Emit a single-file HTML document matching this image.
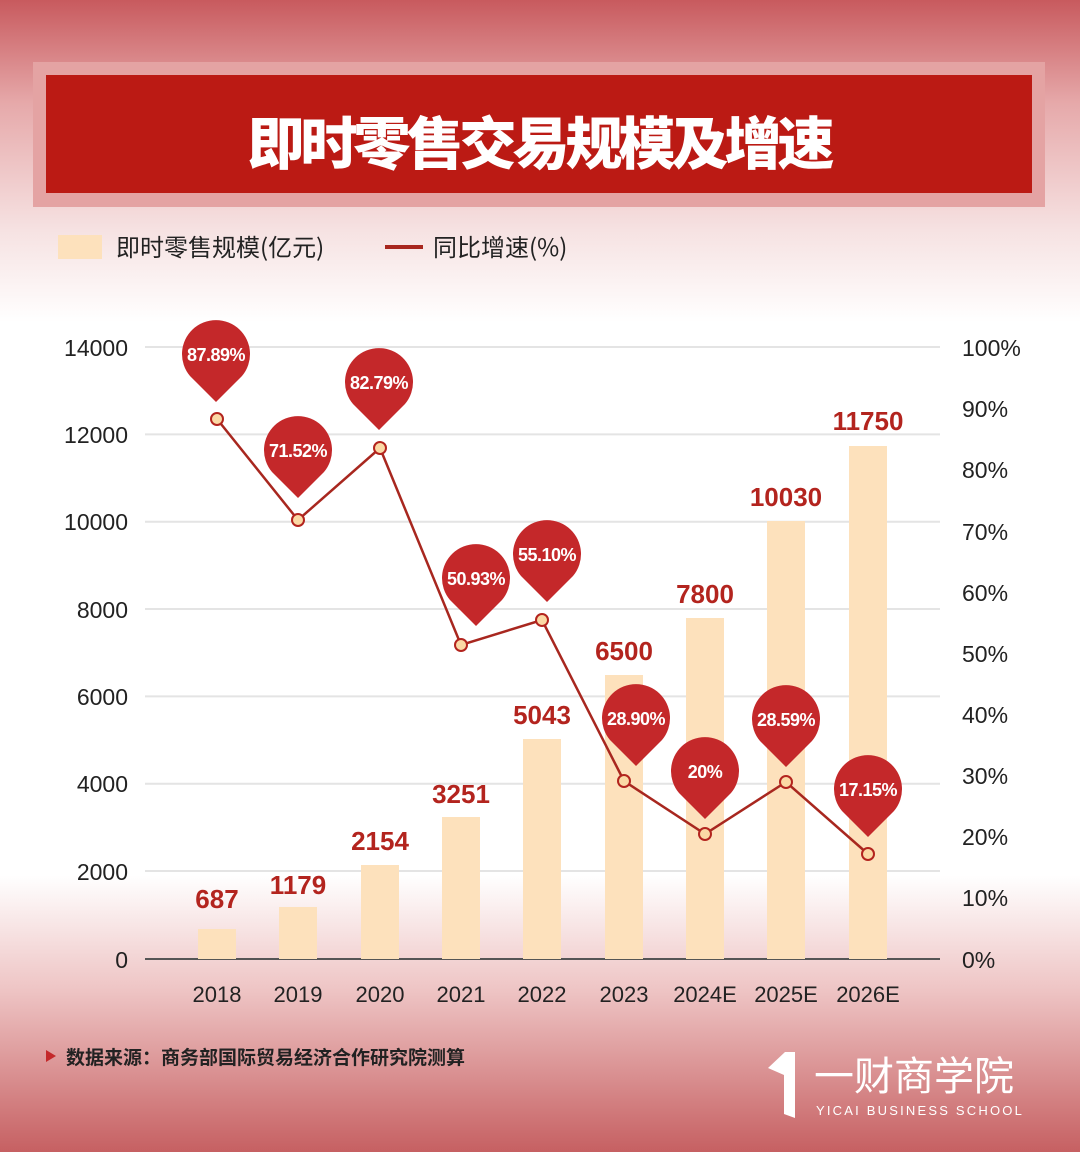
<!DOCTYPE html>
<html><head><meta charset="utf-8"><style>
html,body{margin:0;padding:0;}
body{width:1080px;height:1152px;overflow:hidden;font-family:"Liberation Sans","Noto Sans CJK SC",sans-serif;}
</style></head><body>
<svg width="1080" height="1152" viewBox="0 0 1080 1152" xmlns="http://www.w3.org/2000/svg" font-family="Liberation Sans, Noto Sans CJK SC, sans-serif">
<defs>
<linearGradient id="bg" x1="0" y1="0" x2="0" y2="1">
<stop offset="0" stop-color="#c85a5e"/>
<stop offset="0.09" stop-color="#e6a9aa"/>
<stop offset="0.2" stop-color="#f6e2e2"/>
<stop offset="0.28" stop-color="#ffffff"/>
<stop offset="0.76" stop-color="#ffffff"/>
<stop offset="0.86" stop-color="#eec4c4"/>
<stop offset="1" stop-color="#c66062"/>
</linearGradient>
</defs>
<rect width="1080" height="1152" fill="url(#bg)"/>
<rect x="33" y="62" width="1012" height="145" fill="#e4a3a3"/>
<rect x="46" y="75" width="986" height="118" fill="#bb1a14"/>
<text x="539" y="164" text-anchor="middle" font-size="57" font-weight="900" fill="#fff" font-family="Noto Sans CJK SC, sans-serif" letter-spacing="-4">即时零售交易规模及增速</text>
<rect x="58" y="235" width="44" height="24" fill="#fde1bc"/>
<text x="116" y="256" font-size="24" fill="#222" font-family="Noto Sans CJK SC, sans-serif">即时零售规模(亿元)</text>
<rect x="385" y="245" width="38" height="4" fill="#a8271f"/>
<text x="433" y="256" font-size="24" fill="#222" font-family="Noto Sans CJK SC, sans-serif">同比增速(%)</text>
<g stroke="#e4e4e4" stroke-width="2">
<line x1="145" y1="347" x2="940" y2="347"/><line x1="145" y1="434.4" x2="940" y2="434.4"/>
<line x1="145" y1="521.7" x2="940" y2="521.7"/><line x1="145" y1="609" x2="940" y2="609"/>
<line x1="145" y1="696.4" x2="940" y2="696.4"/><line x1="145" y1="783.7" x2="940" y2="783.7"/>
<line x1="145" y1="871" x2="940" y2="871"/>
</g>
<line x1="145" y1="959" x2="940" y2="959" stroke="#555" stroke-width="2"/>
<g font-size="23" fill="#222" text-anchor="end">
<text x="128" y="356">14000</text><text x="128" y="443">12000</text><text x="128" y="530">10000</text>
<text x="128" y="618">8000</text><text x="128" y="705">6000</text><text x="128" y="792">4000</text>
<text x="128" y="880">2000</text><text x="128" y="968">0</text>
</g>
<g font-size="23" fill="#222">
<text x="962" y="356">100%</text><text x="962" y="417">90%</text><text x="962" y="478">80%</text>
<text x="962" y="540">70%</text><text x="962" y="601">60%</text><text x="962" y="662">50%</text>
<text x="962" y="723">40%</text><text x="962" y="784">30%</text><text x="962" y="845">20%</text>
<text x="962" y="906">10%</text><text x="962" y="968">0%</text>
</g>
<g fill="#fde1bc">
<rect x="198" y="929" width="38" height="30"/><rect x="279" y="907" width="38" height="52"/>
<rect x="361" y="865" width="38" height="94"/><rect x="442" y="817" width="38" height="142"/>
<rect x="523" y="739" width="38" height="220"/><rect x="605" y="675" width="38" height="284"/>
<rect x="686" y="618" width="38" height="341"/><rect x="767" y="521" width="38" height="438"/>
<rect x="849" y="446" width="38" height="513"/>
</g>
<g font-size="26" font-weight="bold" fill="#b3241e" text-anchor="middle">
<text x="217" y="908">687</text><text x="298" y="894">1179</text><text x="380" y="850">2154</text>
<text x="461" y="803">3251</text><text x="542" y="724">5043</text><text x="624" y="660">6500</text>
<text x="705" y="603">7800</text><text x="786" y="506">10030</text><text x="868" y="430">11750</text>
</g>
<g font-size="22" fill="#222" text-anchor="middle">
<text x="217" y="1002">2018</text><text x="298" y="1002">2019</text><text x="380" y="1002">2020</text>
<text x="461" y="1002">2021</text><text x="542" y="1002">2022</text><text x="624" y="1002">2023</text>
<text x="705" y="1002">2024E</text><text x="786" y="1002">2025E</text><text x="868" y="1002">2026E</text>
</g>
<polyline points="217,419 298,520 380,448 461,645 542,620 624,781 705,834 786,782 868,854" fill="none" stroke="#a8271f" stroke-width="2.5"/>
<g fill="#fbd9a5" stroke="#b3241e" stroke-width="2">
<circle cx="217" cy="419" r="6"/><circle cx="298" cy="520" r="6"/><circle cx="380" cy="448" r="6"/>
<circle cx="461" cy="645" r="6"/><circle cx="542" cy="620" r="6"/><circle cx="624" cy="781" r="6"/>
<circle cx="705" cy="834" r="6"/><circle cx="786" cy="782" r="6"/><circle cx="868" cy="854" r="6"/>
</g>
<g fill="#c4282a">
<path d="M216,402 L190,376 A34,34 0 1 1 242,376 Z"/>
<path d="M298,498 L272,472 A34,34 0 1 1 324,472 Z"/>
<path d="M379,430 L353,404 A34,34 0 1 1 405,404 Z"/>
<path d="M476,626 L450,600 A34,34 0 1 1 502,600 Z"/>
<path d="M547,602 L521,576 A34,34 0 1 1 573,576 Z"/>
<path d="M636,766 L610,740 A34,34 0 1 1 662,740 Z"/>
<path d="M705,819 L679,793 A34,34 0 1 1 731,793 Z"/>
<path d="M786,767 L760,741 A34,34 0 1 1 812,741 Z"/>
<path d="M868,837 L842,811 A34,34 0 1 1 894,811 Z"/>
</g>
<g font-size="18" font-weight="bold" fill="#fff" text-anchor="middle" letter-spacing="-0.5">
<text x="216" y="361">87.89%</text><text x="298" y="457">71.52%</text><text x="379" y="389">82.79%</text>
<text x="476" y="585">50.93%</text><text x="547" y="561">55.10%</text><text x="636" y="725">28.90%</text>
<text x="705" y="778">20%</text><text x="786" y="726">28.59%</text><text x="868" y="796">17.15%</text>
</g>
<path d="M46,1050 L56,1056 L46,1062 Z" fill="#c4282a"/>
<text x="66" y="1064" font-size="19" font-weight="bold" fill="#222" font-family="Noto Sans CJK SC, sans-serif">数据来源：商务部国际贸易经济合作研究院测算</text>
<path d="M768,1068 L785,1052 L795,1052 L795,1118 L784,1114 L784,1075 Z" fill="#fff"/>
<text x="814" y="1090" font-size="40" fill="#fff" font-family="Noto Sans CJK SC, sans-serif">一财商学院</text>
<text x="816" y="1115" font-size="13" fill="#fff" letter-spacing="2.2">YICAI BUSINESS SCHOOL</text>
</svg>
</body></html>
